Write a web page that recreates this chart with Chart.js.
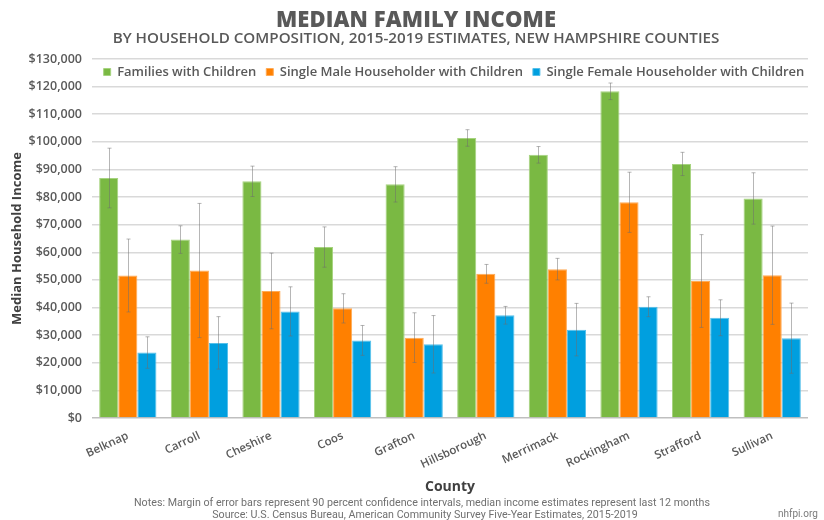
<!DOCTYPE html>
<html>
<head>
<meta charset="utf-8">
<script src="https://cdn.jsdelivr.net/npm/chart.js@4.4.1/dist/chart.umd.min.js"></script>
<style>
  html, body { margin: 0; padding: 0; background: #ffffff; }
  #wrap { position: relative; width: 824px; height: 520px; overflow: hidden; }
  #c { position: absolute; left: 0; top: 0; }
  .txt { position: absolute; left: 0; width: 824px; text-align: center; color: #595959; white-space: nowrap; }
  #title { top: 3px; left: 4px; font-family: 'Open Sans', sans-serif; font-size: 22px; font-weight: 800; letter-spacing: 0.1px; }
  #subtitle { top: 27px; left: 4px; font-family: 'Open Sans', sans-serif; font-size: 15.2px; font-weight: 600; }
  .note { font-family: 'Liberation Sans Narrow', 'Roboto', sans-serif; font-size: 10.7px; color: #707070; }
  #note1 { top: 496px; left: 10px; }
  #note2 { top: 508px; left: 13px; }
  #credit { position: absolute; top: 508px; left: 778px; font-family: 'Liberation Sans Narrow', 'Roboto', sans-serif; font-size: 10px; color: #7a7a7a; }
</style>
</head>
<body>
<div id="wrap">
  <canvas id="c" width="824" height="520"></canvas>
  <div id="title" class="txt">MEDIAN FAMILY INCOME</div>
  <div id="subtitle" class="txt">BY HOUSEHOLD COMPOSITION, 2015-2019 ESTIMATES, NEW HAMPSHIRE COUNTIES</div>
  <div id="note1" class="txt note">Notes: Margin of error bars represent 90 percent confidence intervals, median income estimates represent last 12 months</div>
  <div id="note2" class="txt note">Source: U.S. Census Bureau, American Community Survey Five-Year Estimates, 2015-2019</div>
  <div id="credit">nhfpi.org</div>
</div>
<script>
// ---- Data ----
const counties = ['Belknap', 'Carroll', 'Cheshire', 'Coos', 'Grafton', 'Hillsborough', 'Merrimack', 'Rockingham', 'Strafford', 'Sullivan'];
const seriesNames = ['Families with Children', 'Single Male Householder with Children', 'Single Female Householder with Children'];

const familiesWithChildren = [86900, 64600, 85700, 61900, 84600, 101400, 95300, 118300, 92000, 79500];
const singleMaleWithChildren = [51600, 53400, 46000, 39700, 29100, 52200, 53900, 78100, 49600, 51700];
const singleFemaleWithChildren = [23700, 27200, 38600, 28100, 26700, 37200, 32000, 40300, 36300, 28900];

// margins of error (90% CI half-width)
const familiesMOE = [10800, 5000, 5500, 7300, 6400, 3000, 3000, 3000, 4200, 9300];
const singleMaleMOE = [13200, 24300, 13700, 5300, 9000, 3400, 3900, 10900, 16800, 17800];
const singleFemaleMOE = [5700, 9500, 8900, 5400, 10400, 3200, 9500, 3600, 6500, 12700];

const yTickMax = 130000;
const yTickStep = 10000;

// ---- Styles ----
const colors = ['#7AB943', '#FF8000', '#009FDF'];
const borderColors = ['#A6D37F', '#FFAA55', '#55C0EA'];
const textGrey = '#595959';

const values = [familiesWithChildren, singleMaleWithChildren, singleFemaleWithChildren];
const moes = [familiesMOE, singleMaleMOE, singleFemaleMOE];

const errorBarPlugin = {
  id: 'errorBars',
  afterDatasetsDraw(chart) {
    const ctx = chart.ctx;
    const yScale = chart.scales.y;
    ctx.save();
    ctx.strokeStyle = 'rgba(110,110,110,0.5)';
    ctx.lineWidth = 1;
    chart.data.datasets.forEach((ds, di) => {
      const meta = chart.getDatasetMeta(di);
      if (meta.hidden) return;
      meta.data.forEach((bar, i) => {
        const v = ds.data[i];
        const e = moes[di][i];
        const x = Math.round(bar.x) + 0.5;
        const yt = yScale.getPixelForValue(v + e);
        const yb = yScale.getPixelForValue(v - e);
        ctx.beginPath();
        ctx.moveTo(x, yt); ctx.lineTo(x, yb);
        ctx.moveTo(x - 2, yt); ctx.lineTo(x + 2, yt);
        ctx.moveTo(x - 2, yb); ctx.lineTo(x + 2, yb);
        ctx.stroke();
      });
    });
    ctx.restore();
  }
};

// Moves the legend inside the plot area, between the top two grid lines
const legendInsidePlugin = {
  id: 'legendInside',
  afterLayout(chart) {
    const lg = chart.legend;
    if (!lg) return;
    const area = chart.chartArea;
    const targetCenter = area.top + 13;
    const shift = targetCenter - (lg.top + lg.height / 2);
    lg.top += shift; lg.bottom += shift;
    const dx = 50;
    lg.left += dx; lg.right += dx;
  }
};

const legendHeightGuess = 32;

new Chart(document.getElementById('c'), {
  type: 'bar',
  data: {
    labels: counties,
    datasets: seriesNames.map((name, i) => ({
      label: name,
      data: values[i],
      backgroundColor: colors[i],
      borderColor: borderColors[i],
      borderWidth: 1,
      categoryPercentage: 0.8,
      barPercentage: 1.0
    }))
  },
  options: {
    responsive: false,
    animation: false,
    layout: { padding: { top: 58 - legendHeightGuess, right: 16, bottom: 25, left: 0 } },
    plugins: {
      title: { display: false },
      tooltip: { enabled: false },
      legend: {
        display: true,
        position: 'top',
        align: 'center',
        labels: {
          boxWidth: 7,
          boxHeight: 7,
          padding: 10,
          color: textGrey,
          font: { family: "'Open Sans', sans-serif", size: 13, weight: '600' }
        }
      }
    },
    scales: {
      x: {
        grid: { display: false },
        border: { display: false },
        ticks: {
          color: textGrey,
          minRotation: 25,
          maxRotation: 25,
          padding: 3,
          font: { family: "'Open Sans', sans-serif", size: 11.5, weight: '600' }
        },
        title: {
          display: true,
          text: 'County',
          color: '#404040',
          padding: { top: 0, bottom: 0 },
          font: { family: "'Open Sans', sans-serif", size: 14, weight: '700' }
        },
        afterFit(scale) { scale.height = 77; }
      },
      y: {
        min: 0,
        max: yTickMax,
        grid: {
          drawTicks: false,
          lineWidth: 1.5,
          color: (c) => (c.tick && c.tick.value === 0 ? '#BFBFBF' : '#D9D9D9')
        },
        border: { display: false },
        ticks: {
          stepSize: yTickStep,
          padding: 10,
          color: textGrey,
          font: { family: "'Open Sans', sans-serif", size: 12.5, weight: '600' },
          callback: (v) => '$' + Number(v).toLocaleString('en-US')
        },
        title: {
          display: true,
          text: 'Median Household Income',
          color: '#404040',
          padding: { top: 9, bottom: 0 },
          font: { family: "'Open Sans', sans-serif", size: 13, weight: '700' }
        },
        afterFit(scale) { scale.width = 92; }
      }
    }
  },
  plugins: [legendInsidePlugin, errorBarPlugin]
});
</script>
</body>
</html>
